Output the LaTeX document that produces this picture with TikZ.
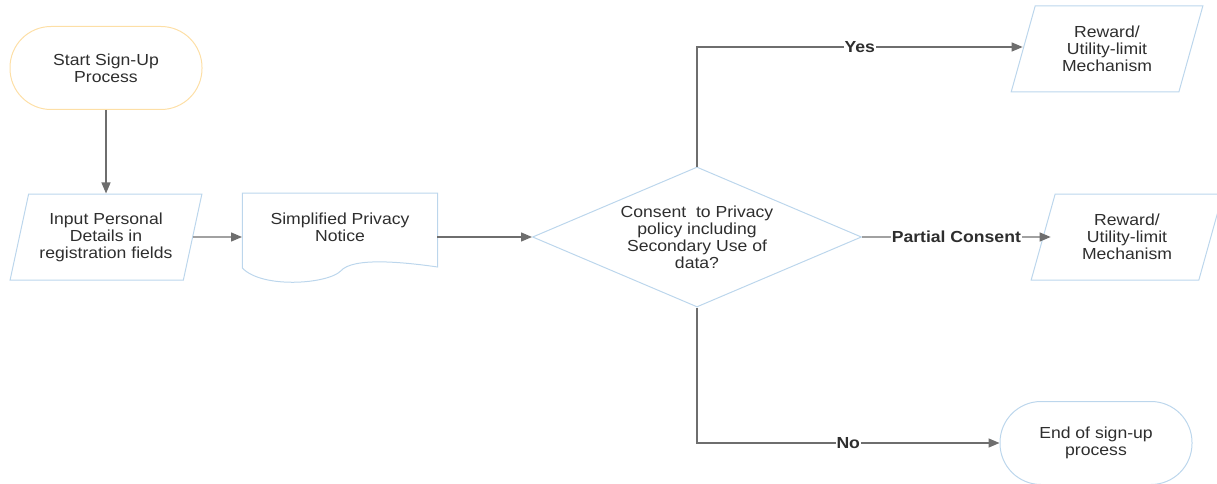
\documentclass[tikz,border=0pt]{standalone}
\usepackage{fontspec}
\setmainfont{Liberation Sans}[FakeStretch=1.1]
\usepackage{tikz}
\usetikzlibrary{arrows.meta}
\usetikzlibrary{shapes.geometric}
\usetikzlibrary{calc}

\definecolor{edgeblue}{HTML}{BCD6EC}
\definecolor{edgeorange}{HTML}{FDDFA6}
\definecolor{linegray}{HTML}{6E6E6E}
\definecolor{txtgray}{HTML}{2E2E2E}

\begin{document}
\begin{tikzpicture}[x=1pt,y=1pt,
    font=\fontsize{16}{17}\selectfont, text=txtgray,
    term/.style={draw, rounded corners=41pt, minimum width=192pt, minimum height=83pt, align=center, line width=1pt},
    io/.style={draw=edgeblue, trapezium, trapezium left angle=74, trapezium right angle=106, trapezium stretches=true, minimum width=192pt, minimum height=86pt, align=center, line width=1pt, inner xsep=0pt},
    flow/.style={draw=linegray, line width=1.3pt, -{Triangle[length=11pt,width=9pt]}},
    lbl/.style={fill=white, font=\fontsize{16}{17}\selectfont\bfseries, inner sep=1pt}]
  \useasboundingbox (0,0) rectangle (1217,483);
      \node[term, draw=edgeorange] (st) at (106,415) {Start Sign-Up\\Process};
      \node[io] (in) at (106,246) {Input Personal\\Details in\\registration fields};
      \node[align=center, minimum width=195pt] (pn) at (340,256) {Simplified Privacy\\Notice};
      \node[draw=edgeblue, diamond, aspect=2.35, minimum width=329pt, minimum height=140pt, align=center, inner sep=0pt, line width=1pt] (cs) at (697,246) {Consent \ to Privacy\\policy including\\Secondary Use of\\data?};
      \node[io] (ry) at (1107,434) {Reward/\\Utility-limit\\Mechanism};
      \node[io] (rp) at (1127,246) {Reward/\\Utility-limit\\Mechanism};
      \node[term, draw=edgeblue] (en) at (1096,40) {End of sign-up\\process};
      % document outline round the notice
      \draw [edgeblue, line width=1pt] ($(pn.west)+(0,34)$) -- ($(pn.east)+(0,34)$) -- ($(pn.east)+(0,-40)$)
        .. controls ($(pn.east)+(-35,-35)$) and ($(pn.east)+(-85,-30)$) .. ($(pn.east)+(-97,-44)$)
        .. controls ($(pn.east)+(-110,-57)$) and ($(pn.west)+(20,-62)$) .. ($(pn.west)+(0,-41)$) -- cycle;
      \coordinate (cy) at (697,436);
      \coordinate (cn) at (697,40);
      \draw [flow] (st) -- (in);
      \draw [flow] (in.east) -- (242,246);
      \draw [flow] (437,246) -- (cs.west);
      \draw [flow] (cs.north) -- (cy) -- node[lbl] {Yes} (ry.west |- cy);
      \draw [flow] (cs.east) -- node[lbl] {Partial Consent} ($(rp.west)+(8,0)$);
      \draw [flow] (cs.south) -- (cn) -- node[lbl] {No} (en.west);
\end{tikzpicture}
\end{document}
